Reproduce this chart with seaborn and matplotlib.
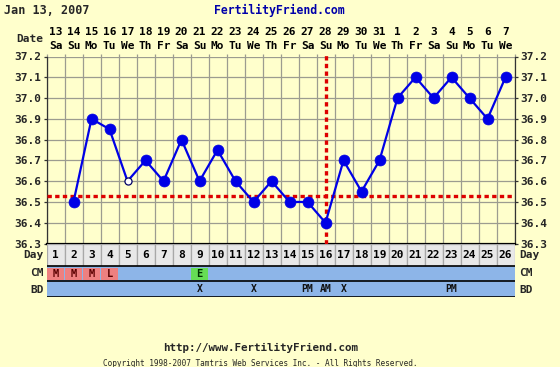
import numpy as np
import pandas as pd
import matplotlib
matplotlib.use("Agg")
import matplotlib.pyplot as plt
import matplotlib.transforms as mtransforms
import seaborn as sns

# ---------------- data ----------------
cycle_days = list(range(1, 27))
dates = ["13", "14", "15", "16", "17", "18", "19", "20", "21", "22", "23", "24", "25",
         "26", "27", "28", "29", "30", "31", "1", "2", "3", "4", "5", "6", "7"]
weekdays = ["Sa", "Su", "Mo", "Tu", "We", "Th", "Fr", "Sa", "Su", "Mo", "Tu", "We", "Th",
            "Fr", "Sa", "Su", "Mo", "Tu", "We", "Th", "Fr", "Sa", "Su", "Mo", "Tu", "We"]
temps = [np.nan, 36.5, 36.9, 36.85, 36.6, 36.7, 36.6, 36.8, 36.6, 36.75, 36.6, 36.5, 36.6,
         36.5, 36.5, 36.4, 36.7, 36.55, 36.7, 37.0, 37.1, 37.0, 37.1, 37.0, 36.9, 37.1]
open_days = [5]          # discarded / open-circle temperature
cm = ["M", "M", "M", "L", "", "", "", "", "E", "", "", "", "", "", "", "", "", "", "",
      "", "", "", "", "", "", ""]
bd = ["", "", "", "", "", "", "", "", "X", "", "", "X", "", "", "PM", "AM", "X", "", "",
      "", "", "", "PM", "", "", ""]
ytick_values = [36.3, 36.4, 36.5, 36.6, 36.7, 36.8, 36.9, 37.0, 37.1, 37.2]
ytick_labels = ["36.3", "36.4", "36.5", "36.6", "36.7", "36.8", "36.9", "37.0", "37.1", "37.2"]
coverline = 36.53
ovulation_day = 16
title_date = "Jan 13, 2007"
site = "FertilityFriend.com"
footer_url = "http://www.FertilityFriend.com"
footer_copy = "Copyright 1998-2007 Tamtris Web Services Inc. - All Rights Reserved."

# ---------------- style ----------------
sns.set_style("white")
BG = "#FFFFCC"
GRID = "#9C9C90"
BLUE = "#0000E6"
ROWBLUE = "#8DB5E8"
plt.rcParams["font.family"] = ["DejaVu Sans Mono"]
plt.rcParams["font.weight"] = "bold"

W, H = 560, 367
fig = plt.figure(figsize=(W / 100, H / 100), dpi=100, facecolor=BG)

def fx(px):
    return px / W

def fy(py):
    return 1 - py / H

left_px, right_px = 46.5, 514.5
top_px, bot_px = 56.5, 243.5
rows_bot_px = 297.0

ax = fig.add_axes([fx(left_px), fy(bot_px), fx(right_px - left_px), (bot_px - top_px) / H])
ax.set_facecolor(BG)

df = pd.DataFrame({"day": cycle_days, "temp": temps})
df["open"] = df["day"].isin(open_days)

sns.lineplot(data=df.dropna(), x="day", y="temp", color=BLUE, lw=1.6, ax=ax, zorder=4,
             estimator=None, sort=True)
sns.scatterplot(data=df[~df["open"]].dropna(), x="day", y="temp", color=BLUE, s=62,
                edgecolor=BLUE, linewidth=0.5, ax=ax, zorder=5)
sns.scatterplot(data=df[df["open"]], x="day", y="temp", color="white", s=26,
                edgecolor="#000066", linewidth=0.9, ax=ax, zorder=5)

ax.set_xlim(0.5, 26.5)
ax.set_ylim(36.3, 37.2)
ax.set_xticks(np.arange(0.5, 27.0, 1.0))
ax.set_xticklabels([])
ax.set_yticks(ytick_values)
ax.set_yticklabels(ytick_labels)
ax.grid(True, color=GRID, lw=0.9)
ax.set_axisbelow(True)
ax.tick_params(axis="x", bottom=False, top=True, length=2.5, color=GRID, width=0.9)
ax.tick_params(axis="y", left=True, right=True, labelleft=True, labelright=True,
               length=2.5, width=0.9, color="#333333", pad=1.5, labelsize=8)
for lab in ax.get_yticklabels():
    lab.set_fontweight("bold")
ax.set_xlabel("")
ax.set_ylabel("")
for s in ["top"]:
    ax.spines[s].set_visible(False)
ax.spines["left"].set_color("#333333")
ax.spines["right"].set_color("#333333")
ax.spines["bottom"].set_color("black")
ax.spines["bottom"].set_linewidth(1.6)
for s in ["left", "right"]:
    ax.spines[s].set_linewidth(0.9)

RED = "#DD0000"
ax.axhline(coverline, color=RED, lw=2.4, ls=(0, (1.3, 1.0)), zorder=3)
ax.axvline(ovulation_day, ymin=0, ymax=1.02, color=RED, lw=2.4, ls=(0, (1.3, 1.0)),
           zorder=3, clip_on=False)

# date header
tr = mtransforms.blended_transform_factory(ax.transData, fig.transFigure)
for d, dt, wd in zip(cycle_days, dates, weekdays):
    ax.text(d, fy(32), dt, transform=tr, ha="center", va="center", fontsize=8,
            fontweight="bold", color="black")
    ax.text(d, fy(46), wd, transform=tr, ha="center", va="center", fontsize=8,
            fontweight="bold", color="black")
fig.text(fx(43), fy(39), "Date", ha="right", va="center", fontsize=8, fontweight="bold")

# ---------------- rows (Day, CM, BD) ----------------
ax2 = fig.add_axes([fx(left_px), fy(rows_bot_px), fx(right_px - left_px),
                    (rows_bot_px - bot_px) / H])
ax2.set_xlim(0.5, 26.5)
ax2.set_ylim(rows_bot_px - bot_px, 0)
ax2.axis("off")
h_day, h_cm, h_bd = 22.5, 15.0, 16.0
ax2.bar(cycle_days, [h_day] * 26, bottom=0, width=1.0, color="#E8E8E8",
        edgecolor="#A8A8A8", linewidth=0.9)
ax2.bar(cycle_days, [h_cm] * 26, bottom=h_day, width=1.0, color=ROWBLUE, linewidth=0)
ax2.bar(cycle_days, [h_bd] * 26, bottom=h_day + h_cm, width=1.0, color=ROWBLUE, linewidth=0)
cm_colors = {"M": "#EE8080", "L": "#EE8080", "E": "#66DD55"}
cm_text = {"M": "#5A0000", "L": "#5A0000", "E": "#003300"}
for d, c in zip(cycle_days, cm):
    if c:
        ax2.bar([d], [h_cm - 3], bottom=h_day + 1.5, width=0.9, color=cm_colors[c],
                linewidth=0)
        ax2.text(d, h_day + h_cm / 2 + 0.3, c, ha="center", va="center", fontsize=7.5,
                 fontweight="bold", color=cm_text[c])
for d, b in zip(cycle_days, bd):
    if b:
        ax2.text(d, h_day + h_cm + h_bd / 2 + 0.3, b, ha="center", va="center",
                 fontsize=7, fontweight="bold", color="#111111")
for d in cycle_days:
    ax2.text(d, h_day / 2 + 0.5, str(d), ha="center", va="center", fontsize=8,
             fontweight="bold", color="black")
for yy in [h_day, h_day + h_cm, h_day + h_cm + h_bd]:
    ax2.axhline(yy, color="black", lw=1.2)

row_labels = [("Day", 255), ("CM", 273.5), ("BD", 290)]
for lab, py in row_labels:
    fig.text(fx(44), fy(py), lab, ha="right", va="center", fontsize=8, fontweight="bold")
    fig.text(fx(519), fy(py), lab, ha="left", va="center", fontsize=8, fontweight="bold")

# ---------------- titles and footer ----------------
fig.text(fx(4), fy(10), title_date, ha="left", va="center", fontsize=8.5, fontweight="bold")
fig.text(fx(279), fy(10), site, ha="center", va="center", fontsize=8.3, fontweight="bold",
         color="#0000AA")
fig.text(fx(261), fy(348), footer_url, ha="center", va="center", fontsize=7.8,
         fontweight="bold")
fig.text(fx(260), fy(363), footer_copy, ha="center", va="center", fontsize=5.6,
         fontweight="normal")

fig.savefig("out.png", dpi=100, facecolor=BG)
